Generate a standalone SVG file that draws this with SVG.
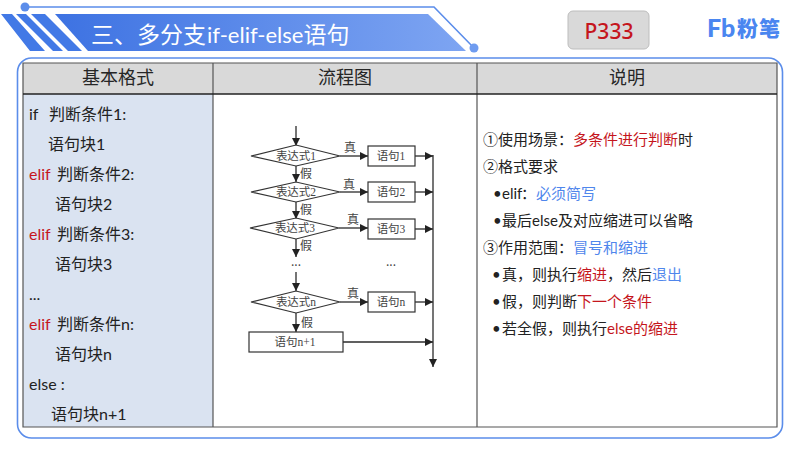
<svg xmlns="http://www.w3.org/2000/svg" width="800" height="450" viewBox="0 0 800 450">
<style>
text{font-family:"Noto Sans CJK SC","Noto Sans",sans-serif;fill:#222}
.hd{font-size:18px;text-anchor:middle;fill:#262626}
.l{font-size:16px}
.n{font-size:15px}
.lat{font-family:"Lato","Noto Sans CJK SC",sans-serif}
.r{fill:#c5161d}.b{fill:#4f86ec}
.fc{font-family:"Liberation Serif","Noto Sans CJK SC",serif;font-size:11.5px;text-anchor:middle;fill:#444}
.fl{font-family:"Noto Sans CJK SC",serif;font-size:12px;text-anchor:middle;fill:#444}
.shape{fill:#fff;stroke:#333;stroke-width:1.2}
.c{stroke:#2b2b2b;stroke-width:1.3;fill:none;marker-end:url(#a)}
</style>
<defs>
<marker id="a" markerUnits="userSpaceOnUse" markerWidth="9" markerHeight="9" refX="8" refY="4" orient="auto"><path d="M0 0L8 4L0 8Z" fill="#222"/></marker>
<linearGradient id="bn" x1="0" x2="1"><stop offset="0" stop-color="#3d72e2"/><stop offset="1" stop-color="#7ea5f2"/></linearGradient>
</defs>
<rect width="800" height="450" fill="#fff"/>
<g id="banner">
<path d="M25 7H434L474 48" fill="none" stroke="#5b8dea" stroke-width="1.6"/>
<circle cx="25" cy="7" r="4.5" fill="#5b8dea"/><circle cx="474" cy="48" r="4.5" fill="#6f9cf0"/>
<path d="M1 14H12L45 51H30Z M16 14H26L63 51H53Z M31 14H45L82 51H68Z" fill="#4279e6"/>
<path d="M55 14H428L466 51H88Z" fill="url(#bn)"/>
<text x="91" y="43" font-size="23" style="fill:#fff">三、多分支<tspan class="lat" dx="1" style="font-size:22px">if-elif-else</tspan>语句</text>
</g>
<g id="page">
<rect x="568" y="11" width="81" height="38" rx="5" fill="#d9d9d9" stroke="#bdbdbd"/>
<text x="609" y="39" text-anchor="middle" style="fill:#c5161d;font-family:'Noto Sans',sans-serif;font-size:21px;font-weight:500">P333</text>
</g>
<g id="logo">
<text x="707" y="37" style="fill:#4a86f0;font-family:'Lato',sans-serif;font-size:25px;font-weight:900">Fb</text>
<text x="737" y="36" style="fill:#4a86f0;font-size:21px;font-weight:900;letter-spacing:1px">粉笔</text>
</g>
<g id="table">
<rect x="17.5" y="58" width="765" height="380" rx="14" fill="#fff" stroke="#5b8dea" stroke-width="1.6"/>
<rect x="23" y="63" width="754" height="31" fill="#d9d9d9"/>
<rect x="23" y="94" width="190" height="333" fill="#dae3f1"/>
<path d="M23 63H777V427H23Z M213 63V427 M477 63V427" fill="none" stroke="#555" stroke-width="1.2"/>
<path d="M23 94H777" stroke="#222" stroke-width="1.6"/>
<text class="hd" x="118" y="84">基本格式</text><text class="hd" x="345" y="84">流程图</text><text class="hd" x="627" y="84">说明</text>
</g>
<g id="code">
<text class="l lat" x="29" y="120">if</text><text class="l" x="49" y="120">判断条件<tspan class="lat">1:</tspan></text>
<text class="l" x="48" y="150">语句块<tspan class="lat">1</tspan></text>
<text class="l lat r" x="29" y="180">elif</text><text class="l" x="57" y="180">判断条件<tspan class="lat">2:</tspan></text>
<text class="l" x="55" y="210">语句块<tspan class="lat">2</tspan></text>
<text class="l lat r" x="29" y="240">elif</text><text class="l" x="57" y="240">判断条件<tspan class="lat">3:</tspan></text>
<text class="l" x="55" y="270">语句块<tspan class="lat">3</tspan></text>
<text class="l lat" x="29" y="300">...</text>
<text class="l lat r" x="29" y="330">elif</text><text class="l" x="57" y="330">判断条件<tspan class="lat">n:</tspan></text>
<text class="l" x="55" y="360">语句块<tspan class="lat">n</tspan></text>
<text class="l lat" x="29" y="390">else :</text>
<text class="l" x="51" y="420">语句块<tspan class="lat">n+1</tspan></text>
</g>
<g id="connectors">
<path class="c" d="M296 126V146"/>
<path class="c" d="M296 166V182"/><path class="c" d="M296 202V219"/><path class="c" d="M296 239V257"/><path class="c" d="M296 272V291"/><path class="c" d="M296 313V332"/>
<path class="c" d="M340 156H368"/><path class="c" d="M340 192H368"/><path class="c" d="M339 228H368"/><path class="c" d="M340 302H368"/>
<path class="c" d="M415 156H433"/><path class="c" d="M415 192H433"/><path class="c" d="M415 229H433"/><path class="c" d="M415 302H433"/><path class="c" d="M343 342H433"/>
<path class="c" d="M433 155V367"/>
</g>
<g id="d1"><path class="shape" d="M251 156L296 145L340 156L296 166Z"/><text class="fc" x="296" y="160">表达式1</text></g>
<g id="d2"><path class="shape" d="M251 192L296 182L340 192L296 202Z"/><text class="fc" x="296" y="196">表达式2</text></g>
<g id="d3"><path class="shape" d="M250 228L296 218L339 228L296 239Z"/><text class="fc" x="295" y="232">表达式3</text></g>
<g id="dn"><path class="shape" d="M251 302L296 291L340 302L296 313Z"/><text class="fc" x="296" y="306">表达式n</text></g>
<g id="b1"><rect class="shape" x="368" y="146" width="47" height="20"/><text class="fc" x="391" y="160">语句1</text></g>
<g id="b2"><rect class="shape" x="368" y="182" width="47" height="20"/><text class="fc" x="391" y="196">语句2</text></g>
<g id="b3"><rect class="shape" x="368" y="219" width="47" height="20"/><text class="fc" x="391" y="233">语句3</text></g>
<g id="bn1"><rect class="shape" x="368" y="292" width="47" height="20"/><text class="fc" x="391" y="306">语句n</text></g>
<g id="bn2"><rect class="shape" x="249" y="332" width="94" height="20"/><text class="fc" x="295" y="346">语句n+1</text></g>
<g id="flow-labels">
<text class="fl" x="350" y="152">真</text><text class="fl" x="349" y="189">真</text><text class="fl" x="353" y="224">真</text><text class="fl" x="353" y="298">真</text>
<text class="fl" x="306" y="178">假</text><text class="fl" x="306" y="214">假</text><text class="fl" x="306" y="250">假</text><text class="fl" x="307" y="327">假</text>
<text class="fl" x="296" y="266">...</text><text class="fl" x="391" y="266">...</text>
</g>
<g id="notes">
<text class="n" x="483" y="145">①使用场景：<tspan class="r">多条件进行判断</tspan>时</text>
<text class="n" x="483" y="172">②格式要求</text>
<text class="n lat" x="493" y="199">•</text><text class="n lat" x="502" y="199">elif</text><text class="n" x="521" y="199">：<tspan class="b">必须简写</tspan></text>
<text class="n lat" x="493" y="226">•</text><text class="n" x="502" y="226">最后<tspan class="lat">else</tspan>及对应缩进可以省略</text>
<text class="n" x="483" y="253">③作用范围：<tspan class="b">冒号和缩进</tspan></text>
<text class="n lat" x="492" y="280">•</text><text class="n" x="502" y="280">真，则执行<tspan class="r">缩进</tspan>，然后<tspan class="b">退出</tspan></text>
<text class="n lat" x="492" y="307">•</text><text class="n" x="502" y="307">假，则判断<tspan class="r">下一个条件</tspan></text>
<text class="n lat" x="492" y="334">•</text><text class="n" x="502" y="334">若全假，则执行<tspan class="r"><tspan class="lat r">else</tspan>的缩进</tspan></text>
</g>
</svg>
